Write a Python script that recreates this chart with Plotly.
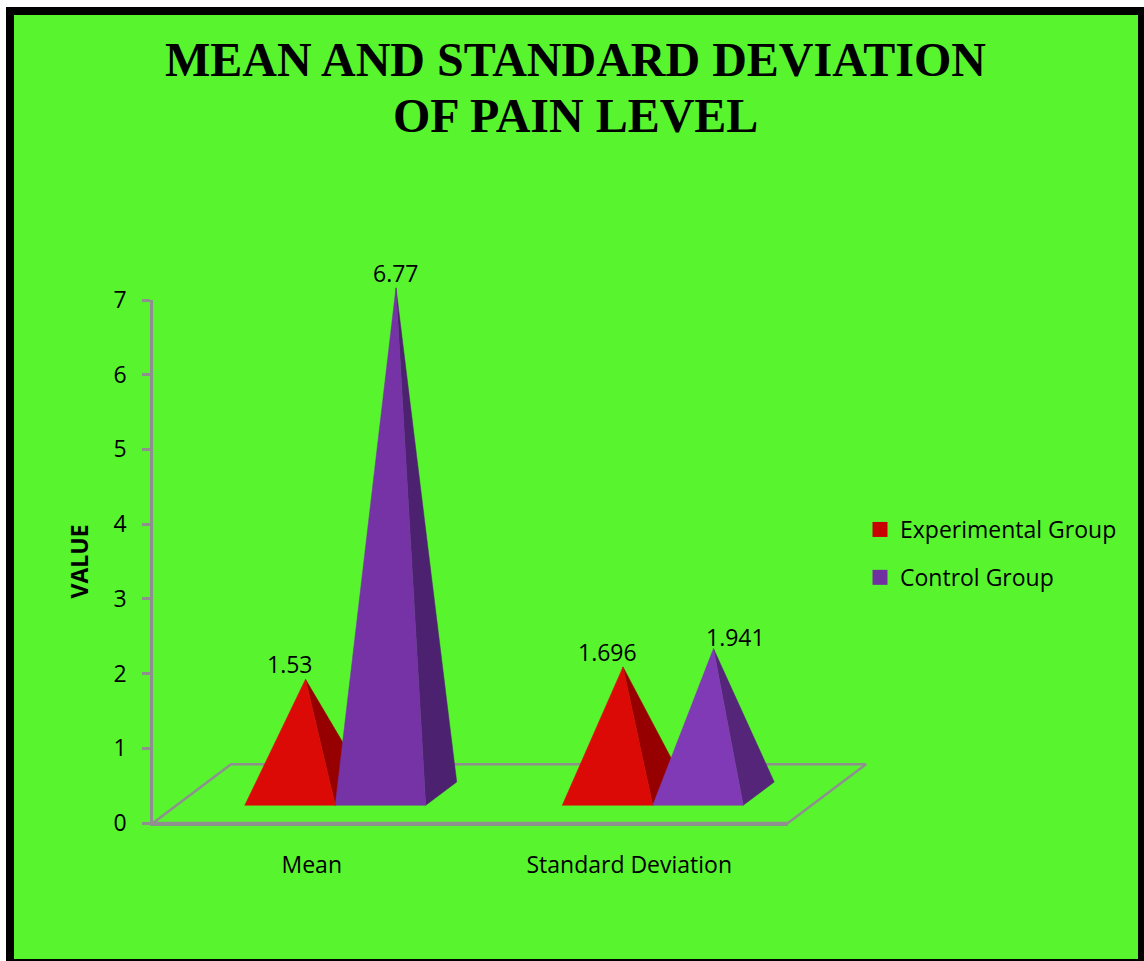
import plotly.graph_objects as go

# Chart data
categories = ["Mean", "Standard Deviation"]
experimental = [1.53, 1.696]
control = [6.77, 1.941]
y_ticks = [0, 1, 2, 3, 4, 5, 6, 7]
series_names = ["Experimental Group", "Control Group"]

WIDTH, HEIGHT = 1144, 961
FONT = "Open Sans"
GREEN = "#58F52F"
GREY = "#8F8F8F"
LINE_W = 2.5

# Pixel frame of the visible axes
AX_L, AX_R, AX_T, AX_B = 153, 788, 300, 823
PX_PER_CAT = (AX_R - AX_L) / 2
PX_PER_UNIT = (AX_B - AX_T) / 7
# Larger frame of the hidden axes carrying the 3D marks, on the same scale
MK_L, MK_R, MK_T, MK_B = 143, 880, 263, 833

# Oblique projection of the floor and of the pyramid bases, in axis units
FLOOR_DX, FLOOR_DY = 0.2457, 0.786
BASE_Y = 0.237
BASE_DX, BASE_DY = 0.0976, 0.312
GROUP_SHIFT = 0.074
BAR_W = 0.285

fig = go.Figure()

# Legend swatches sit on the visible axes
for name, colour in zip(series_names, ["#C80000", "#7030A0"]):
    fig.add_trace(go.Scatter(x=[None], y=[None], mode="markers", name=name, legendgroup=name,
                             marker=dict(symbol="square", size=15, color=colour)))


def add_floor():
    x = [-0.5, 1.5, 1.5 + FLOOR_DX, -0.5 + FLOOR_DX, -0.5]
    y = [0, 0, FLOOR_DY, FLOOR_DY, 0]
    fig.add_trace(go.Scatter(x=x, y=y, xaxis="x2", yaxis="y2", mode="lines", showlegend=False,
                             hoverinfo="skip", line=dict(color=GREY, width=LINE_W)))


def add_pyramid(x_left, value, front, side):
    x_right = x_left + BAR_W
    apex_x = x_left + BAR_W / 2 + BASE_DX / 2
    apex_y = BASE_Y + BASE_DY / 2 + value
    fig.add_trace(go.Scatter(
        x=[x_right, x_right + BASE_DX, apex_x, x_right],
        y=[BASE_Y, BASE_Y + BASE_DY, apex_y, BASE_Y],
        xaxis="x2", yaxis="y2", mode="lines", fill="toself", fillcolor=side,
        line=dict(color=side, width=0.5), showlegend=False, hoverinfo="skip"))
    fig.add_trace(go.Scatter(
        x=[x_left, x_right, apex_x, x_left],
        y=[BASE_Y, BASE_Y, apex_y, BASE_Y],
        xaxis="x2", yaxis="y2", mode="lines", fill="toself", fillcolor=front,
        line=dict(color=front, width=0.5), showlegend=False, hoverinfo="skip"))
    return apex_x, apex_y


add_floor()

red_front, red_side = "#DC0A06", "#960000"
purple_styles = [("#7533A5", "#4C2270"), ("#813AB5", "#55257A")]
label_shift = {0: [(-15.5, -15), (0, -15)], 1: [(-15.5, -15), (22.5, -11.5)]}

for i in range(len(categories)):
    centre = i + GROUP_SHIFT
    red_apex = add_pyramid(centre - BAR_W, experimental[i], red_front, red_side)
    purple_apex = add_pyramid(centre, control[i], *purple_styles[i])
    for (ax, ay), val, (sx, sy) in zip((red_apex, purple_apex),
                                       (experimental[i], control[i]), label_shift[i]):
        fig.add_annotation(x=ax, y=ay, xref="x2", yref="y2", text=str(val), showarrow=False,
                           xshift=sx, yshift=-sy, xanchor="center", yanchor="middle",
                           font=dict(family=FONT, size=23, color="black"))

# Two-line heading
for text, ypx in (("MEAN AND STANDARD DEVIATION", 60), ("OF PAIN LEVEL", 115)):
    fig.add_annotation(x=575.5 / WIDTH, y=1 - ypx / HEIGHT, xref="paper", yref="paper",
                       text="<b>" + text + "</b>", showarrow=False,
                       xanchor="center", yanchor="middle",
                       font=dict(family="Liberation Serif", size=48, color="black"))

# Page panel with its heavy black frame
fig.add_shape(type="rect", xref="paper", yref="paper", layer="below",
              x0=10 / WIDTH, x1=1142 / WIDTH, y0=1 - 963 / HEIGHT, y1=1 - 11 / HEIGHT,
              fillcolor=GREEN, line=dict(color="black", width=8))

fig.update_layout(
    width=WIDTH, height=HEIGHT, autosize=False,
    margin=dict(l=0, r=0, t=0, b=0, autoexpand=False),
    paper_bgcolor="white", plot_bgcolor="rgba(0,0,0,0)",
    font=dict(family=FONT, size=23, color="black"),
    legend=dict(x=860 / WIDTH, y=1 - 508 / HEIGHT, xanchor="left", yanchor="top",
                bgcolor="rgba(0,0,0,0)", tracegroupgap=15, traceorder="grouped",
                font=dict(family=FONT, size=23, color="black")),
    xaxis=dict(domain=[AX_L / WIDTH, AX_R / WIDTH], range=[-0.5, 1.5], tickmode="array",
               tickvals=list(range(len(categories))), ticktext=categories, showgrid=False,
               zeroline=False, showline=True, linecolor=GREY, linewidth=LINE_W, ticks="",
               ticklabelstandoff=20),
    yaxis=dict(domain=[1 - AX_B / HEIGHT, 1 - AX_T / HEIGHT], range=[0, 7], tickmode="array",
               tickvals=y_ticks, showgrid=False, zeroline=False, showline=True,
               linecolor=GREY, linewidth=LINE_W, ticks="outside", ticklen=8, tickwidth=LINE_W,
               tickcolor=GREY, ticklabelstandoff=11,
               title=dict(text="<b>VALUE</b>", standoff=19,
                          font=dict(family=FONT, size=23, color="black"))),
    xaxis2=dict(domain=[MK_L / WIDTH, MK_R / WIDTH], anchor="y2", visible=False,
                range=[-0.5 - (AX_L - MK_L) / PX_PER_CAT, 1.5 + (MK_R - AX_R) / PX_PER_CAT]),
    yaxis2=dict(domain=[1 - MK_B / HEIGHT, 1 - MK_T / HEIGHT], anchor="x2", visible=False,
                range=[-(MK_B - AX_B) / PX_PER_UNIT, (AX_B - MK_T) / PX_PER_UNIT]),
)

fig.write_html("out.html")
